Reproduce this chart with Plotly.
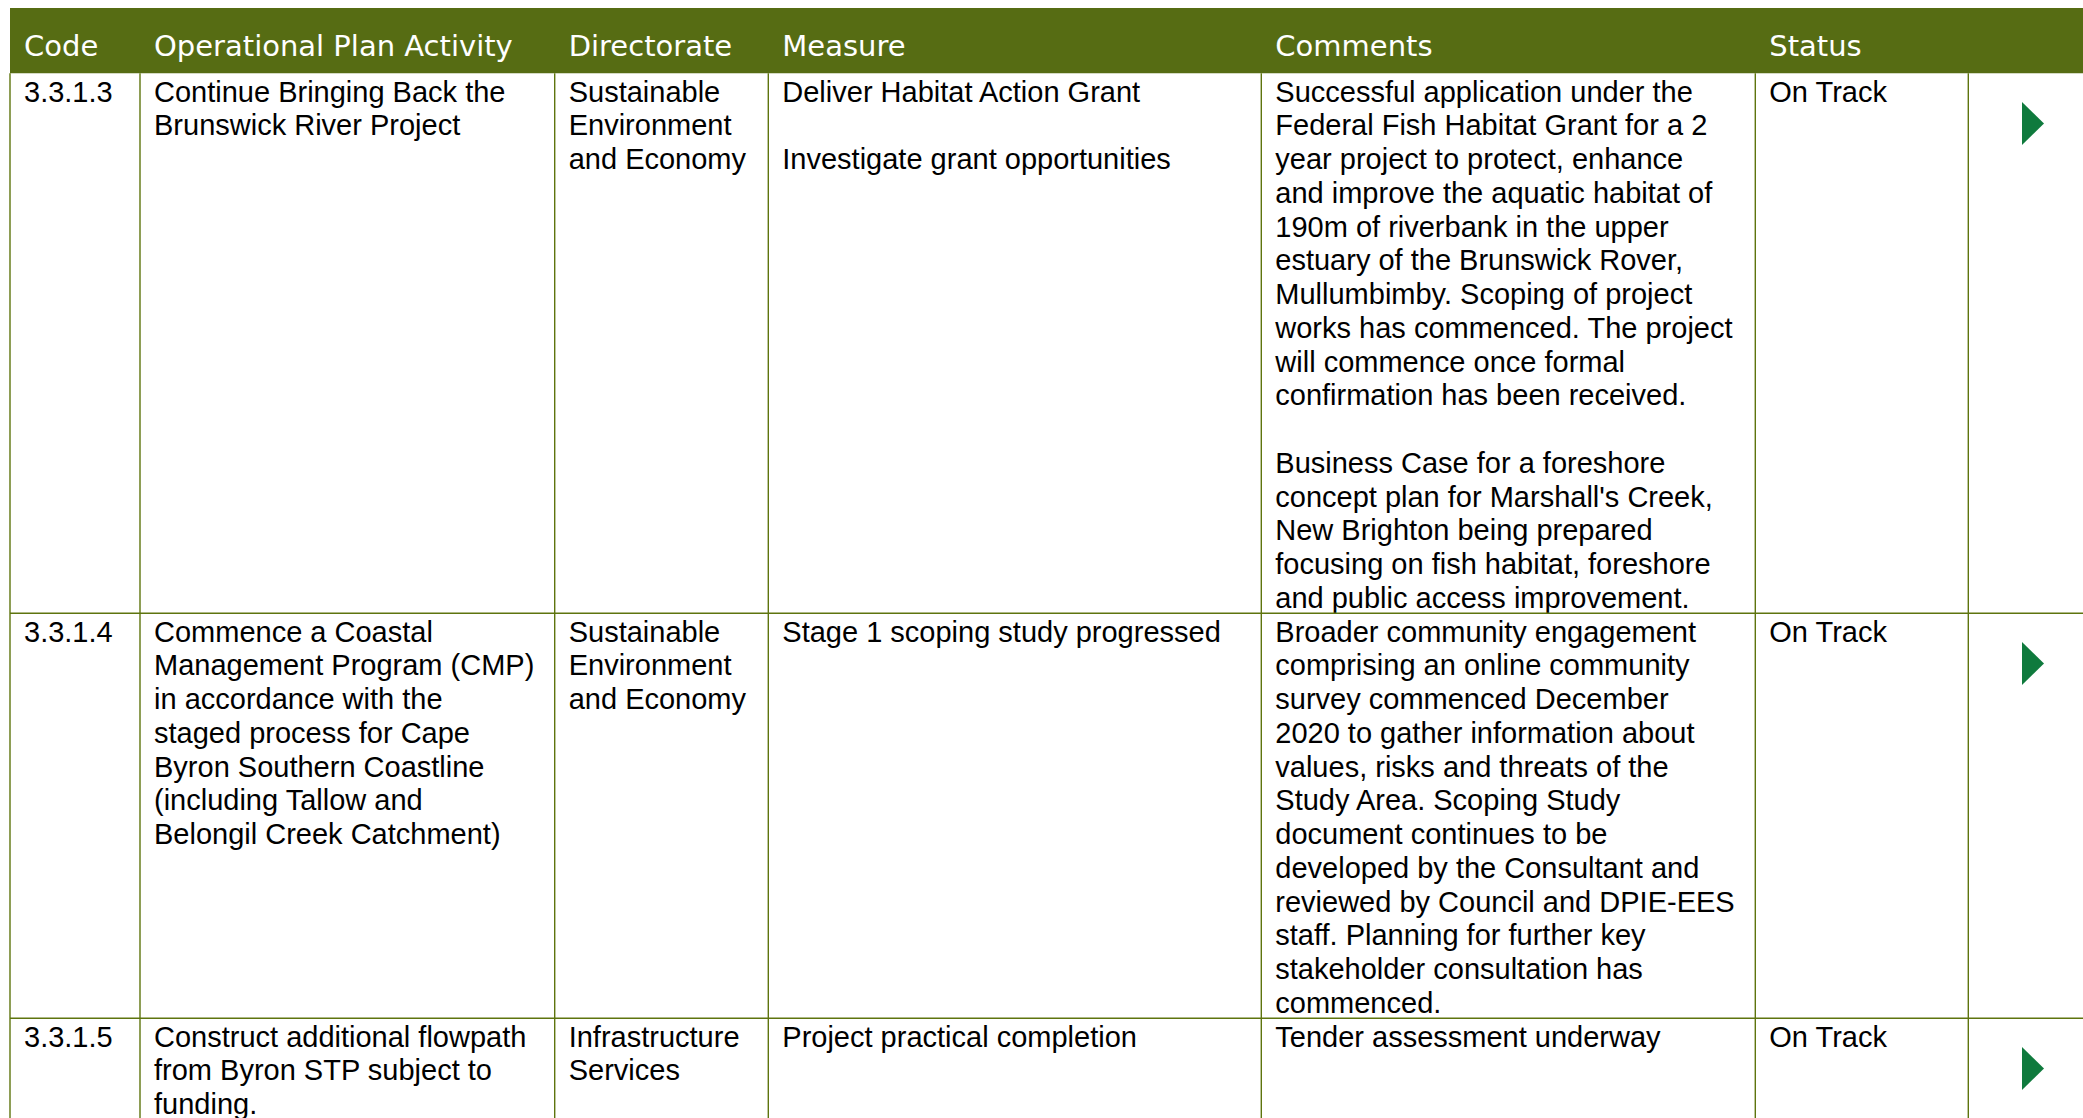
import plotly.graph_objects as go

# ---------------- data ----------------
headers = ["Code", "Operational Plan Activity", "Directorate", "Measure", "Comments", "Status"]

codes = ["3.3.1.3", "3.3.1.4", "3.3.1.5"]

activities = [
    "Continue Bringing Back the\nBrunswick River Project",
    "Commence a Coastal\nManagement Program (CMP)\nin accordance with the\nstaged process for Cape\n"
    "Byron Southern Coastline\n(including Tallow and\nBelongil Creek Catchment)",
    "Construct additional flowpath\nfrom Byron STP subject to\nfunding.",
]

directorates = [
    "Sustainable\nEnvironment\nand Economy",
    "Sustainable\nEnvironment\nand Economy",
    "Infrastructure\nServices",
]

measures = [
    "Deliver Habitat Action Grant\n\nInvestigate grant opportunities",
    "Stage 1 scoping study progressed",
    "Project practical completion",
]

comments = [
    "Successful application under the\nFederal Fish Habitat Grant for a 2\nyear project to protect, enhance\n"
    "and improve the aquatic habitat of\n190m of riverbank in the upper\nestuary of the Brunswick Rover,\n"
    "Mullumbimby. Scoping of project\nworks has commenced. The project\nwill commence once formal\n"
    "confirmation has been received.\n\nBusiness Case for a foreshore\nconcept plan for Marshall's Creek,\n"
    "New Brighton being prepared\nfocusing on fish habitat, foreshore\nand public access improvement.",
    "Broader community engagement\ncomprising an online community\nsurvey commenced December\n"
    "2020 to gather information about\nvalues, risks and threats of the\nStudy Area. Scoping Study\n"
    "document continues to be\ndeveloped by the Consultant and\nreviewed by Council and DPIE-EES\n"
    "staff. Planning for further key\nstakeholder consultation has\ncommenced.",
    "Tender assessment underway",
]

statuses = ["On Track", "On Track", "On Track"]

# ---------------- layout constants ----------------
W, H = 2083, 1118
col_edges = [10, 140, 554.7, 768.3, 1261.3, 1755.3, 1968.3, W + 10]
header_top, header_bottom = 8, 73.3
line_h = 33.75
fs = 29
hfs = 29
pad = 14
first_baseline = 28.2
header_baseline = 55.5

HEADER_GREEN = "#566c13"
LINE_COL = "#5e740e"
ARROW_GREEN = "#0f7a3d"
body_font = "Liberation Sans, Arial, sans-serif"
head_font = "DejaVu Sans, sans-serif"

columns = [codes, activities, directorates, measures, comments, statuses]

fig = go.Figure()

# header band
fig.add_shape(type="rect", x0=col_edges[0], x1=col_edges[-1], y0=header_top, y1=header_bottom,
              fillcolor=HEADER_GREEN, line_width=0, layer="below")

# header text
fig.add_trace(go.Scatter(
    x=[col_edges[i] + pad for i in range(len(headers))],
    y=[header_baseline - 0.25 * hfs] * len(headers),
    text=headers, mode="text", textposition="middle right",
    textfont=dict(family=head_font, size=hfs, color="white"),
    hoverinfo="skip", showlegend=False))

# rows
n_rows = len(codes)
row_tops = []
top = header_bottom
for r in range(n_rows):
    row_tops.append(top)
    nl = max(len(col[r].split("\n")) for col in columns)
    top += nl * line_h

for c, col in enumerate(columns):
    xs, ys, ts = [], [], []
    for r in range(n_rows):
        for i, line in enumerate(col[r].split("\n")):
            if not line:
                continue
            xs.append(col_edges[c] + pad)
            ys.append(row_tops[r] + first_baseline + i * line_h - 0.25 * fs)
            ts.append(line)
    fig.add_trace(go.Scatter(
        x=xs, y=ys, text=ts, mode="text", textposition="middle right",
        textfont=dict(family=body_font, size=fs, color="black"),
        hoverinfo="skip", showlegend=False))

# grid lines
for r in range(1, n_rows):
    fig.add_shape(type="line", x0=col_edges[0], x1=col_edges[-1], y0=row_tops[r], y1=row_tops[r],
                  line=dict(color=LINE_COL, width=1.4))
for x in col_edges[:-1]:
    fig.add_shape(type="line", x0=x, x1=x, y0=header_bottom, y1=H + 20,
                  line=dict(color=LINE_COL, width=1.4))

# status arrows
ax0, ax1 = 2022, 2044
for r in range(n_rows):
    if statuses[r] == "On Track":
        t = row_tops[r]
        fig.add_shape(type="path",
                      path=f"M {ax0},{t + 28.7} L {ax1},{t + 50.2} L {ax0},{t + 71.7} Z",
                      fillcolor=ARROW_GREEN, line_width=0)

fig.update_layout(
    width=W, height=H, margin=dict(l=0, r=0, t=0, b=0),
    paper_bgcolor="white", plot_bgcolor="white",
    xaxis=dict(range=[0, W], visible=False, fixedrange=True),
    yaxis=dict(range=[H, 0], visible=False, fixedrange=True),
    showlegend=False,
)

fig.write_html("out.html",
               config={"displayModeBar": False, "staticPlot": True},
               post_script="document.body.style.margin='0';document.body.style.overflow='hidden';")
